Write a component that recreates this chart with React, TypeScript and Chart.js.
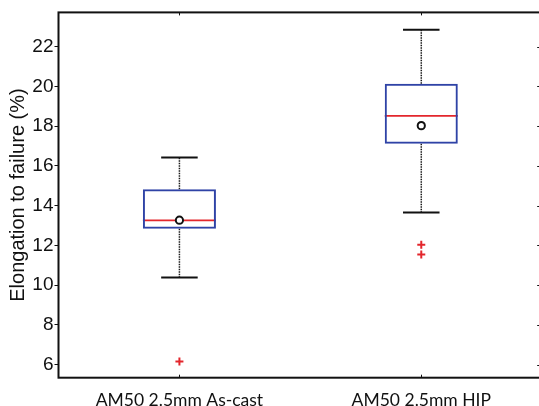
import React, { useEffect, useRef } from 'react';
import { Chart, registerables } from 'chart.js';

Chart.register(...registerables);

// Box plot summary for the two sample groups (elongation to failure, %)
const CATEGORIES = ['AM50 2.5mm As-cast', 'AM50 2.5mm HIP'];
const Q1 = [12.84, 17.12];
const Q3 = [14.83, 20.14];
const MEDIAN = [13.26, 18.52];
const MEAN = [13.27, 18.03];
const WHISKER_LOW = [10.38, 13.66];
const WHISKER_HIGH = [16.42, 22.86];
const OUTLIERS = [[6.15], [12.03, 11.54]];

const Y_TICKS = [6, 8, 10, 12, 14, 16, 18, 20, 22];
const Y_MIN = 5.34;
const Y_MAX = 23.73;
const Y_TITLE = 'Elongation to failure (%)';

const CANVAS_W = 560;
const CANVAS_H = 406;

const BOX_COLOR = '#2f43a6';
const MEDIAN_COLOR = '#e3262c';
const OUTLIER_COLOR = '#e3262c';

const boxPlugin = {
  id: 'boxWhiskers',
  beforeDatasetsDraw(chart: any) {
    const { ctx } = chart;
    const x = chart.scales.x;
    const y = chart.scales.y;
    const boxMeta = chart.getDatasetMeta(2);
    ctx.save();
    CATEGORIES.forEach((_, i) => {
      const cx = x.getPixelForValue(i);
      const bar = boxMeta.data[i];
      const half = bar ? bar.width / 2 : 36;
      const capHalf = half / 2;
      const yQ1 = y.getPixelForValue(Q1[i]);
      const yQ3 = y.getPixelForValue(Q3[i]);
      const yLo = y.getPixelForValue(WHISKER_LOW[i]);
      const yHi = y.getPixelForValue(WHISKER_HIGH[i]);
      const yMed = y.getPixelForValue(MEDIAN[i]);

      // dashed whiskers
      ctx.strokeStyle = '#1a1a1a';
      ctx.lineWidth = 1.5;
      ctx.setLineDash([1.5, 1]);
      ctx.beginPath();
      ctx.moveTo(cx, yQ3);
      ctx.lineTo(cx, yHi);
      ctx.moveTo(cx, yQ1);
      ctx.lineTo(cx, yLo);
      ctx.stroke();

      // whisker caps
      ctx.setLineDash([]);
      ctx.lineWidth = 2;
      ctx.strokeStyle = '#111';
      ctx.beginPath();
      ctx.moveTo(cx - capHalf, yHi);
      ctx.lineTo(cx + capHalf, yHi);
      ctx.moveTo(cx - capHalf, yLo);
      ctx.lineTo(cx + capHalf, yLo);
      ctx.stroke();

      // median
      ctx.strokeStyle = MEDIAN_COLOR;
      ctx.lineWidth = 1.6;
      ctx.beginPath();
      ctx.moveTo(cx - half, yMed);
      ctx.lineTo(cx + half, yMed);
      ctx.stroke();
    });
    ctx.restore();
  },
  afterDraw(chart: any) {
    const { ctx, chartArea: a } = chart;
    const x = chart.scales.x;
    const y = chart.scales.y;
    ctx.save();
    // axes box
    ctx.strokeStyle = '#111';
    ctx.lineWidth = 2;
    ctx.strokeRect(a.left, a.top, a.right - a.left, a.bottom - a.top);

    // inward ticks on the right edge and on top/bottom at categories
    ctx.lineWidth = 1;
    ctx.beginPath();
    Y_TICKS.forEach((v) => {
      const py = Math.round(y.getPixelForValue(v)) + 0.5;
      ctx.moveTo(a.right, py);
      ctx.lineTo(a.right - 5, py);
    });
    CATEGORIES.forEach((_, i) => {
      const px = Math.round(x.getPixelForValue(i)) + 0.5;
      ctx.moveTo(px, a.bottom);
      ctx.lineTo(px, a.bottom - 3);
      ctx.moveTo(px, a.top);
      ctx.lineTo(px, a.top + 3);
    });
    ctx.stroke();

    // y-axis title
    ctx.fillStyle = '#111';
    ctx.font = '20px "Liberation Sans", Arial, sans-serif';
    ctx.textAlign = 'center';
    ctx.textBaseline = 'middle';
    ctx.translate(18.5, (a.top + a.bottom) / 2);
    ctx.rotate(-Math.PI / 2);
    ctx.fillText(Y_TITLE, 0, 0);
    ctx.restore();
  },
};

export default function App() {
  const canvasRef = useRef<HTMLCanvasElement | null>(null);

  useEffect(() => {
    const canvas = canvasRef.current;
    if (!canvas) return;

    const outlierPoints = OUTLIERS.flatMap((vals, i) =>
      vals.map((v) => ({ x: CATEGORIES[i], y: v }))
    );
    const meanPoints = MEAN.map((v, i) => ({ x: CATEGORIES[i], y: v }));

    const chart = new Chart(canvas, {
      type: 'bar',
      data: {
        labels: CATEGORIES,
        datasets: [
          {
            type: 'line',
            label: 'Mean',
            data: meanPoints as any,
            showLine: false,
            pointStyle: 'circle',
            pointRadius: 3.6,
            pointBorderWidth: 2,
            pointBorderColor: '#111',
            pointBackgroundColor: '#fff',
            order: 1,
          },
          {
            type: 'line',
            label: 'Outliers',
            data: outlierPoints as any,
            showLine: false,
            pointStyle: 'cross',
            pointRadius: 4,
            pointBorderWidth: 2,
            pointBorderColor: OUTLIER_COLOR,
            order: 2,
          },
          {
            type: 'bar',
            label: 'IQR',
            data: CATEGORIES.map((_, i) => [Q1[i], Q3[i]]) as any,
            backgroundColor: 'rgba(255,255,255,0)',
            borderColor: BOX_COLOR,
            borderWidth: 2,
            borderSkipped: false,
            barPercentage: 0.302,
            categoryPercentage: 1,
            order: 3,
          },
        ],
      },
      options: {
        responsive: false,
        animation: false,
        events: [],
        layout: { padding: { top: 5.7, right: CANVAS_W - 542.2, left: 0, bottom: 0 } },
        plugins: {
          legend: { display: false },
          tooltip: { enabled: false },
          title: { display: false },
        },
        scales: {
          x: {
            type: 'category',
            offset: true,
            grid: { display: false },
            border: { display: false },
            ticks: {
              color: '#111',
              padding: 4,
              font: { family: 'Lato, "Open Sans", sans-serif', size: 17.5 },
              maxRotation: 0,
              autoSkip: false,
            },
            afterFit: (scale: any) => {
              scale.height = CANVAS_H - 377.7;
            },
          },
          y: {
            type: 'linear',
            min: Y_MIN,
            max: Y_MAX,
            afterBuildTicks: (scale: any) => {
              scale.ticks = Y_TICKS.map((v) => ({ value: v }));
            },
            grid: {
              drawOnChartArea: false,
              drawTicks: true,
              tickLength: 4,
              color: '#111',
              lineWidth: 1,
            },
            border: { display: false },
            ticks: {
              color: '#111',
              padding: 1,
              font: { family: '"Liberation Sans", Arial, sans-serif', size: 19 },
            },
            afterFit: (scale: any) => {
              scale.width = 58.5;
            },
          },
        },
      },
      plugins: [boxPlugin],
    });

    return () => chart.destroy();
  }, []);

  return (
    <div
      style={{
        position: 'absolute',
        left: 0,
        top: 0,
        width: 539,
        height: 406,
        overflow: 'hidden',
        background: '#fff',
      }}
    >
      <canvas
        ref={canvasRef}
        width={CANVAS_W}
        height={CANVAS_H}
        style={{ display: 'block', width: CANVAS_W, height: CANVAS_H }}
      />
    </div>
  );
}
